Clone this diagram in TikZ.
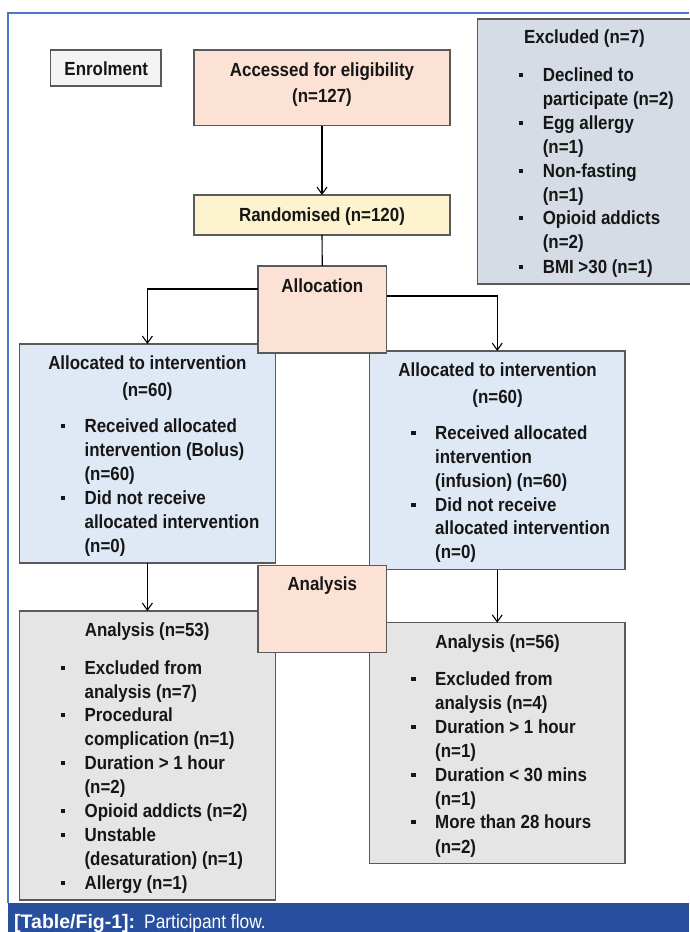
\documentclass[tikz,border=0pt]{standalone}
\usepackage{fontspec}
\setmainfont{Liberation Sans}[FakeStretch=0.89]
\newfontfamily\capfont{Liberation Sans}
\usetikzlibrary{arrows.meta}
\definecolor{boxline}{HTML}{5A5A5A}
\definecolor{txtcol}{HTML}{161616}
\definecolor{enrolfill}{HTML}{F3F3F3}
\definecolor{peach}{HTML}{FBE2D4}
\definecolor{yellowfill}{HTML}{FDF3CE}
\definecolor{exclfill}{HTML}{D6DCE6}
\definecolor{bluefill}{HTML}{DEE9F5}
\definecolor{grayfill}{HTML}{E5E5E5}
\definecolor{frameblue}{HTML}{4A78C8}
\definecolor{capblue}{HTML}{274F9E}
\newcommand{\sqb}{\llap{\rule[4.3pt]{4.5pt}{4.2pt}\hspace{19.4pt}}}
\begin{document}
\begin{tikzpicture}[x=1pt,y=-1pt,
  box/.style={draw=boxline, line width=1.1pt, anchor=north west, inner sep=0pt, outer sep=0pt},
  t/.style={inner sep=0pt, anchor=base west, font=\fontsize{19}{22}\selectfont\bfseries, text=txtcol},
  tc/.style={t, anchor=base},
  capt/.style={anchor=base west, inner sep=0pt, text=white, font=\fontsize{19.5}{21}\selectfont},
  conn/.style={line width=1.1pt, draw=black},
  arr/.style={conn, -{Straight Barb[length=7pt,width=10pt]}}]
\useasboundingbox (0,0) rectangle (689,932);
\fill[white] (0,0) rectangle (689,932);
% frame and caption band
\draw[frameblue, line width=1.5pt] (689,13) -- (8,13) -- (8,903);
\fill[capblue] (8,903) rectangle (689,932);
\node[capt, font=\capfont\fontsize{19.5}{21}\selectfont\bfseries] (cap1) at (14,928) {[Table/Fig-1]:};
\node[capt] (cap2) at (144,928) {Participant flow.};
% main boxes
\node[box, fill=enrolfill, minimum width=110.5pt, minimum height=36pt] (enrol) at (50.5,50) {};
\node[box, fill=peach, minimum width=256pt, minimum height=75.7pt] (acc) at (194,50) {};
\node[box, fill=exclfill, minimum width=230pt, minimum height=265pt] (excl) at (477.6,19) {};
\node[box, fill=yellowfill, minimum width=256pt, minimum height=40pt] (rand) at (194,195) {};
\node[box, fill=bluefill, minimum width=256.2pt, minimum height=219pt] (lalloc) at (19.3,344) {};
\node[box, fill=bluefill, minimum width=255.5pt, minimum height=218.7pt] (ralloc) at (369.5,351) {};
\node[box, fill=grayfill, minimum width=256.2pt, minimum height=289pt] (lana) at (19.3,611) {};
\node[box, fill=grayfill, minimum width=255.5pt, minimum height=241pt] (rana) at (369.5,622.7) {};
% stage label boxes (on top)
\node[box, fill=peach, minimum width=128.6pt, minimum height=87pt] (alloc) at (258,266) {};
\node[box, fill=peach, minimum width=128.6pt, minimum height=87pt] (analysis) at (258,565.7) {};
% connectors
\coordinate (lbend) at (147.4,289);
\coordinate (rbend) at (497.25,296);
\draw[arr] (acc.south) -- (rand.north);
\draw[conn] (rand.south) -- (alloc.north);
\draw[arr] (alloc.west |- lbend) -| (lalloc.north);
\draw[arr] (alloc.east |- rbend) -| (ralloc.north);
\draw[arr] (lalloc.south) -- (lana.north);
\draw[arr] (ralloc.south) -- (rana.north);
% texts
\node[tc] (tenrol) at (106.3,75) {Enrolment};
\node[tc] (tacc1) at (322,76) {Accessed for eligibility};
\node[tc] (tacc2) at (322,102) {(n=127)};
\node[tc] (trand) at (322,221) {Randomised (n=120)};
\node[tc] (talloc) at (322.3,292) {Allocation};
\node[tc] (tanalysis) at (322.3,590) {Analysis};
% excluded
\node[tc] (ex0) at (584.5,43.5) {Excluded (n=7)};
\node[t] (ex1) at (542.6,81.6) {\sqb Declined to};
\node[t] (ex2) at (542.6,105) {participate (n=2)};
\node[t] (ex3) at (542.6,129.6) {\sqb Egg allergy};
\node[t] (ex4) at (542.6,153) {(n=1)};
\node[t] (ex5) at (542.6,177) {\sqb Non-fasting};
\node[t] (ex6) at (542.6,201.3) {(n=1)};
\node[t] (ex7) at (542.6,224.6) {\sqb Opioid addicts};
\node[t] (ex8) at (542.6,248.6) {(n=2)};
\node[t] (ex9) at (542.6,273) {\sqb BMI >30 (n=1)};
% left allocation
\node[tc] (la0) at (147.4,369.6) {Allocated to intervention};
\node[tc] (la0b) at (147.4,396.3) {(n=60)};
\node[t] (la1) at (84.4,432.3) {\sqb Received allocated};
\node[t] (la2) at (84.4,456.3) {intervention (Bolus)};
\node[t] (la3) at (84.4,480.3) {(n=60)};
\node[t] (la4) at (84.4,504.6) {\sqb Did not receive};
\node[t] (la5) at (84.4,528) {allocated intervention};
\node[t] (la6) at (84.4,552.3) {(n=0)};
% right allocation
\node[tc] (ra0) at (497.6,376.3) {Allocated to intervention};
\node[tc] (ra0b) at (497.6,403) {(n=60)};
\node[t] (ra1) at (435,439.6) {\sqb Received allocated};
\node[t] (ra2) at (435,463) {intervention};
\node[t] (ra3) at (435,487.3) {(infusion) (n=60)};
\node[t] (ra4) at (435,511.3) {\sqb Did not receive};
\node[t] (ra5) at (435,534.6) {allocated intervention};
\node[t] (ra6) at (435,558.6) {(n=0)};
% left analysis
\node[tc] (ln0) at (147.2,636.3) {Analysis (n=53)};
\node[t] (ln1) at (84.4,674) {\sqb Excluded from};
\node[t] (ln2) at (84.4,698) {analysis (n=7)};
\node[t] (ln3) at (84.4,721.3) {\sqb Procedural};
\node[t] (ln4) at (84.4,745.6) {complication (n=1)};
\node[t] (ln5) at (84.4,769) {\sqb Duration > 1 hour};
\node[t] (ln6) at (84.4,793) {(n=2)};
\node[t] (ln7) at (84.4,817) {\sqb Opioid addicts (n=2)};
\node[t] (ln8) at (84.4,841.3) {\sqb Unstable};
\node[t] (ln9) at (84.4,865.3) {(desaturation) (n=1)};
\node[t] (ln10) at (84.4,889.6) {\sqb Allergy (n=1)};
% right analysis
\node[tc] (rn0) at (497.6,648) {Analysis (n=56)};
\node[t] (rn1) at (435,685.3) {\sqb Excluded from};
\node[t] (rn2) at (435,709.6) {analysis (n=4)};
\node[t] (rn3) at (435,733) {\sqb Duration > 1 hour};
\node[t] (rn4) at (435,757.3) {(n=1)};
\node[t] (rn5) at (435,781.3) {\sqb Duration < 30 mins};
\node[t] (rn6) at (435,805.3) {(n=1)};
\node[t] (rn7) at (435,828.6) {\sqb More than 28 hours};
\node[t] (rn8) at (435,853) {(n=2)};
\end{tikzpicture}
\end{document}
